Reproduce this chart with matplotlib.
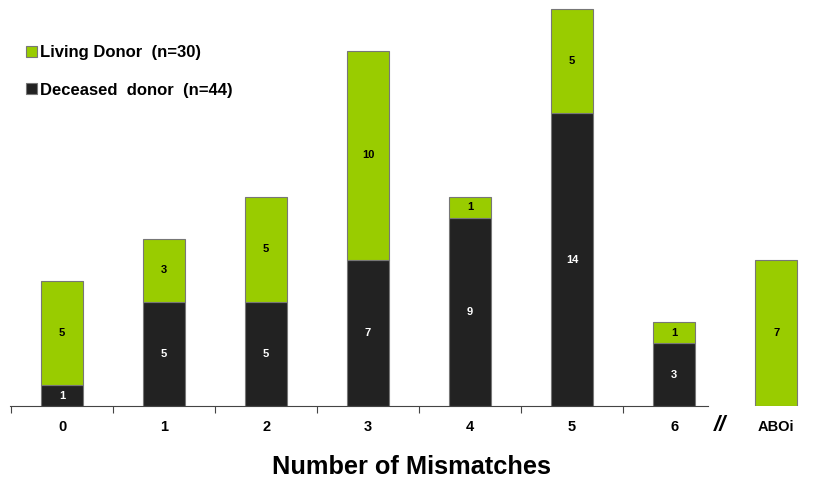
import numpy as np
import matplotlib.pyplot as plt

plt.rcParams['font.family'] = ['Liberation Sans', 'DejaVu Sans']

# data
categories = ['0', '1', '2', '3', '4', '5', '6', 'ABOi']
deceased = [1, 5, 5, 7, 9, 14, 3, 0]
living = [5, 3, 5, 10, 1, 5, 1, 7]

green = '#99cc00'
dark = '#222222'

fig = plt.figure(figsize=(8.19, 4.86), dpi=100)
ax = fig.add_axes([0, 80 / 486, 1, 406 / 486])

x = np.array([0, 1, 2, 3, 4, 5, 6, 7], dtype=float)
w = 0.41
b1 = ax.bar(x, deceased, w, color=dark, edgecolor='#777777', linewidth=0.8,
            label='Deceased  donor  (n=44)')
b2 = ax.bar(x, living, w, bottom=deceased, color=green, edgecolor='#777777',
            linewidth=0.8, label='Living Donor  (n=30)')

# value labels inside segments
for xi, d, l in zip(x, deceased, living):
    if d > 0:
        ax.text(xi, d / 2, str(d), ha='center', va='center', color='white',
                fontsize=8, fontweight='bold')
    if l > 0:
        ax.text(xi, d + l / 2, str(l), ha='center', va='center', color='black',
                fontsize=8, fontweight='bold')

ax.set_xlim(-0.608, 7.42)
ax.set_ylim(0, 19.43)

for s in ['top', 'right', 'left']:
    ax.spines[s].set_visible(False)
ax.spines['bottom'].set_bounds(-0.51, 6.33)
ax.spines['bottom'].set_color('#444444')
ax.set_yticks([])

# ticks between categories, labels centered under bars
ax.set_xticks(np.arange(-0.5, 6.0, 1.0))
ax.tick_params(axis='x', length=5, color='#444444', labelbottom=False)
for xi, c in zip(x, categories):
    ax.text(xi, -1.0, c, ha='center', va='center', fontsize=10.5,
            fontweight='bold')
ax.text(6.45, -0.95, '//', ha='center', va='center', fontsize=16,
        fontweight='bold', style='italic')

ax.text(3.43, -2.9, 'Number of Mismatches', ha='center', va='center',
        fontsize=18.3, fontweight='bold')

# legend
leg = ax.legend(handles=[b2, b1], loc='upper left', bbox_to_anchor=(0.024, 0.905),
                frameon=False, prop={'weight': 'bold', 'size': 12},
                handlelength=0.65, handleheight=0.65, handletextpad=0.2,
                labelspacing=1.35, borderaxespad=0)

plt.savefig('out.png', dpi=100)
